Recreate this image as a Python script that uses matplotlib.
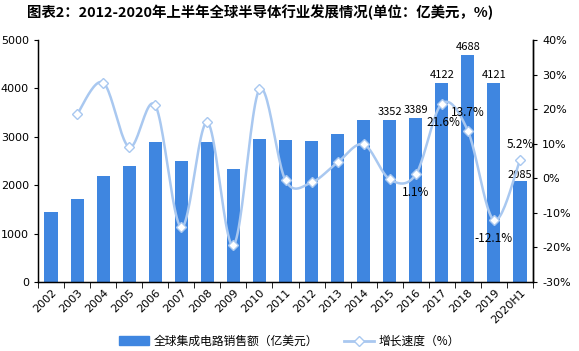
import matplotlib
matplotlib.use("Agg")
import matplotlib.pyplot as plt
import numpy as np
from matplotlib.ticker import FuncFormatter, FixedLocator

plt.rcParams['font.family'] = ['Noto Sans CJK SC', 'DejaVu Sans']

years = ['2002', '2003', '2004', '2005', '2006', '2007', '2008', '2009', '2010', '2011',
         '2012', '2013', '2014', '2015', '2016', '2017', '2018', '2019', '2020H1']
sales = [1450, 1720, 2200, 2405, 2900, 2490, 2900, 2345, 2960, 2940,
         2920, 3050, 3355, 3352, 3389, 4122, 4688, 4121, 2085]
growth = [None, 18.5, 27.7, 9.0, 21.1, -14.2, 16.2, -19.4, 25.7, -0.6,
          -1.2, 4.6, 9.8, -0.3, 1.1, 21.6, 13.7, -12.1, 5.2]
bar_labels = {13: '3352', 14: '3389', 15: '4122', 16: '4688', 17: '4121', 18: '2085'}
pct_labels = {14: '1.1%', 15: '21.6%', 16: '13.7%', 17: '-12.1%', 18: '5.2%'}

bar_color = '#3f86e0'
line_color = '#a9c8f0'

fig = plt.figure(figsize=(5.79, 3.51), dpi=100)
ax = fig.add_axes([0.0656, 0.1966, 0.855, 0.6894])
x = np.arange(len(years))
ax.bar(x, sales, width=0.5, color=bar_color, zorder=2)
ax.set_xlim(-0.5, len(years) - 0.5)
ax.set_ylim(0, 5000)
ax.set_yticks(range(0, 5001, 1000))
ax.tick_params(axis='y', labelsize=8, length=3, direction='out')
ax.set_xticks(x)
ax.set_xticklabels(years, rotation=45, fontsize=8, ha='right', va='top',
                   rotation_mode='anchor', family=['DejaVu Sans'])
ax.tick_params(axis='x', length=0, pad=4)
ax.xaxis.set_minor_locator(FixedLocator(np.arange(-0.5, len(years), 1.0)))
ax.tick_params(axis='x', which='minor', length=4, direction='out')
for lab in ax.get_yticklabels():
    lab.set_family(['DejaVu Sans'])
ax.spines['top'].set_visible(False)
for s in ['left', 'bottom', 'right']:
    ax.spines[s].set_linewidth(1.0)

for i, t in bar_labels.items():
    dy = 20 if i == 18 else 60
    ax.text(x[i], sales[i] + dy, t, ha='center', va='bottom', fontsize=8)

ax2 = ax.twinx()
ax2.set_ylim(-30, 40)
ax2.set_yticks(range(-30, 41, 10))
ax2.yaxis.set_major_formatter(FuncFormatter(lambda v, p: f'{int(v)}%'))
ax2.tick_params(axis='y', labelsize=8, length=3, direction='out')
for lab in ax2.get_yticklabels():
    lab.set_family(['DejaVu Sans'])
ax2.spines['top'].set_visible(False)
ax2.spines['right'].set_linewidth(1.0)

# smooth curve (Catmull-Rom) for drawing the line
gx = np.array([i for i, g in enumerate(growth) if g is not None], dtype=float)
gy = np.array([g for g in growth if g is not None], dtype=float)
cx, cy = [], []
n = len(gx)
for k in range(n - 1):
    p0 = (gx[max(k - 1, 0)], gy[max(k - 1, 0)])
    p1 = (gx[k], gy[k])
    p2 = (gx[k + 1], gy[k + 1])
    p3 = (gx[min(k + 2, n - 1)], gy[min(k + 2, n - 1)])
    t = np.linspace(0, 1, 25)
    for (a0, a1, a2, a3, out) in [(p0[0], p1[0], p2[0], p3[0], cx), (p0[1], p1[1], p2[1], p3[1], cy)]:
        m1 = (a2 - a0) / 2
        m2 = (a3 - a1) / 2
        h00 = 2 * t**3 - 3 * t**2 + 1
        h10 = t**3 - 2 * t**2 + t
        h01 = -2 * t**3 + 3 * t**2
        h11 = t**3 - t**2
        out.extend(h00 * a1 + h10 * m1 + h01 * a2 + h11 * m2)
ax2.plot(cx, cy, color=line_color, lw=1.8, zorder=3, solid_capstyle='round')
ax2.plot(gx, gy, linestyle='none', marker='D', markersize=5.5, markerfacecolor='white',
         markeredgecolor=line_color, markeredgewidth=1.0, zorder=4)

offs = {14: (0.0, -5.2), 15: (0.05, -5.6), 16: (0.0, 5.2), 17: (0.0, -5.4), 18: (0.0, 4.7)}
for i, t in pct_labels.items():
    dx, dy = offs[i]
    ax2.text(x[i] + dx, growth[i] + dy, t, ha='center', va='center', fontsize=8.5)

fig.text(0.449, 0.965, '图表2：2012-2020年上半年全球半导体行业发展情况(单位：亿美元，%)',
         ha='center', va='center', fontsize=10.4, fontweight='bold')

from matplotlib.lines import Line2D
from matplotlib.patches import Patch
handles = [Patch(color=bar_color),
           Line2D([0], [0], color=line_color, lw=2, marker='D', markersize=5,
                  markerfacecolor='white', markeredgecolor=line_color)]
fig.legend(handles, ['全球集成电路销售额（亿美元）', '增长速度（%）'], loc='center',
           bbox_to_anchor=(0.5, 0.028), ncol=2, frameon=False, fontsize=8.5,
           handlelength=2.5, columnspacing=2.2, handletextpad=0.4)

fig.savefig('out.png', dpi=100)
